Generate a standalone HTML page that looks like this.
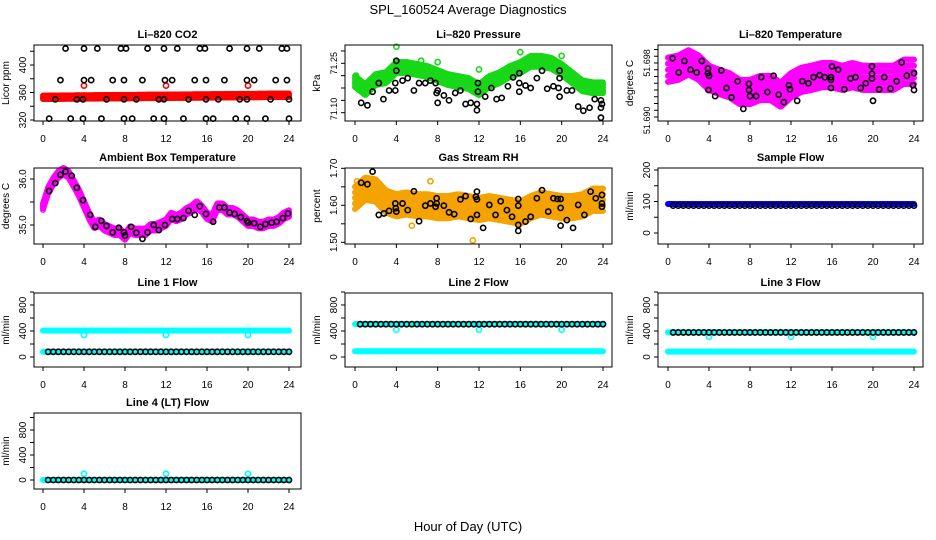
<!DOCTYPE html>
<html><head><meta charset="utf-8"><style>
html,body{margin:0;padding:0;background:#fff;}
svg{display:block;font-family:"Liberation Sans",Arial,sans-serif;}
</style></head><body>
<svg id="chart" width="936" height="540" viewBox="0 0 936 540" xmlns="http://www.w3.org/2000/svg">
<text x="468" y="14" font-size="13" text-anchor="middle">SPL_160524  Average Diagnostics</text>
<text x="468" y="531" font-size="13" text-anchor="middle">Hour of Day (UTC)</text>
</svg>
<script>
// ---- shared x categories ----
const hoursHourly = [0,1,2,3,4,5,6,7,8,9,10,11,12,13,14,15,16,17,18,19,20,21,22,23,24];
const hoursHalf = [0,0.5,1,1.5,2,2.5,3,3.5,4,4.5,5,5.5,6,6.5,7,7.5,8,8.5,9,9.5,10,10.5,11,11.5,12,12.5,13,13.5,14,14.5,15,15.5,16,16.5,17,17.5,18,18.5,19,19.5,20,20.5,21,21.5,22,22.5,23,23.5,24];
const flowHours = [0.5,1,1.5,2,2.5,3,3.5,4,4.5,5,5.5,6,6.5,7,7.5,8,8.5,9,9.5,10,10.5,11,11.5,12,12.5,13,13.5,14,14.5,15,15.5,16,16.5,17,17.5,18,18.5,19,19.5,20,20.5,21,21.5,22,22.5,23,23.5,24];
const xTicks = [0,4,8,12,16,20,24];
const outlierHours = [4,12,20];

// ---- CO2 ----
const co2BlackHours = [2.2,4.0,5.3,7.6,8.1,10.2,11.8,13.1,15.3,15.8,18.2,19.9,21.1,23.3,23.8, 1.7,4.0,4.7,6.8,7.9,9.7,11.9,12.6,14.8,15.9,17.7,19.9,20.6,22.7,23.8, 1.2,3.3,3.9,6.2,7.9,9.1,11.3,11.8,14.2,15.9,17.1,19.2,19.9,22.2,24.0, 0.6,2.7,3.9,5.7,7.9,8.7,10.8,11.8,13.7,15.9,16.6,18.8,19.9,21.7,24.0];
const co2BlackVals = [424,424,424,424,424,424,424,424,424,424,424,424,424,424,424, 378,378,378,378,378,378,378,378,378,378,378,378,378,378,378, 350,350,350,350,350,350,350,350,350,350,350,350,350,350,350, 322,322,322,322,322,322,322,322,322,322,322,322,322,322,322];
const co2RedCenter = [353,353.1,353.3,353.4,353.5,353.6,353.8,353.9,354,354.1,354.3,354.4,354.5,354.6,354.8,354.9,355,355.1,355.3,355.4,355.5,355.6,355.8,355.9,356];
const co2RedSpread = 2.5;
const co2RedOutliers = [370,370,370];

// ---- Pressure ----
const presBandCenter = [71.176,71.143,71.184,71.192,71.233,71.233,71.225,71.217,71.200,71.184,71.176,71.168,71.143,71.176,71.192,71.217,71.233,71.258,71.258,71.250,71.225,71.192,71.159,71.151,71.151];
const presSpread = 0.022;
const presBlackHours = [0.6,1.2,1.7,2.3,2.75,3.3,3.9,3.9,4.0,4.0,4.6,5.1,5.7,6.2,6.8,7.3,7.8,7.9,8.0,8.0,8.6,9.1,9.7,10.2,10.7,11.2,11.8,11.8,11.9,11.9,12.6,13.2,13.7,14.2,14.8,15.3,15.9,15.9,15.9,16.5,17.0,17.6,18.1,18.6,19.2,19.7,19.8,19.8,19.8,20.5,21.0,21.6,22.1,22.7,23.2,23.8,23.8,23.9,23.8];
const presBlackVals = [71.09,71.08,71.135,71.17,71.105,71.14,71.14,71.17,71.26,71.22,71.18,71.19,71.14,71.17,71.17,71.18,71.17,71.13,71.14,71.09,71.12,71.10,71.13,71.14,71.085,71.09,71.085,71.06,71.17,71.135,71.115,71.15,71.105,71.11,71.157,71.193,71.21,71.17,71.135,71.16,71.15,71.19,71.22,71.147,71.157,71.15,71.22,71.19,71.115,71.14,71.14,71.075,71.058,71.07,71.105,71.10,71.07,71.085,71.03];
const presGreenOutHours = [0.1,4.0,6.4,8.0,12.0,16.0,20.0];
const presGreenOutVals = [71.20,71.317,71.26,71.255,71.225,71.295,71.28];

// ---- Li-820 Temperature ----
const tempBandCenter = [51.6970,51.6973,51.6981,51.6973,51.6958,51.6952,51.6947,51.6937,51.6937,51.6943,51.6943,51.6933,51.6947,51.6955,51.6958,51.6962,51.6962,51.6958,51.6962,51.6958,51.6958,51.6958,51.6958,51.6967,51.6967];
const tempSpread = 0.0018;
const tempBlackHours = [0.45,1.05,1.6,2.2,2.8,3.3,3.9,3.9,4.0,3.95,4.6,5.2,5.7,6.2,6.8,7.35,7.9,7.9,8.0,8.6,9.1,9.7,10.3,10.8,11.3,11.8,11.9,12.6,13.1,13.7,14.2,14.8,15.3,15.9,15.9,15.9,16.0,16.6,17.2,17.8,18.3,18.8,19.3,19.9,19.9,19.9,20.0,20.6,21.1,21.7,22.3,22.8,23.3,23.9,24.0,24.0];
const tempBlackVals = [51.6987,51.6966,51.6983,51.6970,51.6966,51.6983,51.6972,51.6965,51.6961,51.6940,51.6931,51.6969,51.6943,51.6929,51.6953,51.6912,51.6949,51.6940,51.6931,51.6931,51.6959,51.6937,51.6961,51.6933,51.6922,51.6947,51.6941,51.6924,51.6953,51.6950,51.6959,51.6962,51.6959,51.6955,51.6959,51.6943,51.6975,51.6970,51.6941,51.6957,51.6959,51.6943,51.6950,51.6957,51.6964,51.6975,51.6924,51.6941,51.6959,51.6942,51.6953,51.6981,51.6961,51.6947,51.6940,51.6965];

// ---- Ambient Box Temperature ----
const ambBandCenter = [35.4,35.75,35.95,36.1,36.17,36.1,35.9,35.7,35.45,35.2,35.0,35.05,34.95,34.9,34.85,34.85,34.75,34.9,34.85,34.85,34.85,34.95,34.95,35.0,35.05,35.2,35.15,35.2,35.3,35.35,35.45,35.35,35.2,35.15,35.4,35.4,35.3,35.3,35.25,35.15,35.05,35.05,35.0,35.0,35.05,35.05,35.1,35.2,35.25];
const ambSpread = 0.07;
const ambBlackHours = [0.6,1.2,1.7,2.2,2.8,3.3,3.9,4.6,5.1,5.7,6.2,6.8,7.4,7.9,8.0,8.6,9.1,9.7,10.2,10.8,11.3,11.9,12.6,13.1,13.7,14.2,14.8,15.3,15.9,16.6,17.2,17.7,18.2,18.7,19.3,19.9,20.0,20.6,21.2,21.7,22.3,22.8,23.4,23.9];
const ambBlackVals = [35.74,35.91,36.09,36.16,36.07,35.81,35.54,35.22,34.96,35.09,34.98,34.84,34.94,34.84,34.77,34.96,34.83,34.70,34.84,35.0,34.89,35.0,35.13,35.13,35.15,35.31,35.22,35.41,35.24,35.07,35.38,35.38,35.27,35.24,35.17,35.09,35.05,35.04,34.96,35.02,35.05,35.07,35.15,35.25];

// ---- Gas Stream RH ----
const rhBandCenter = [1.62,1.645,1.64,1.61,1.60,1.605,1.60,1.60,1.595,1.595,1.60,1.595,1.59,1.595,1.59,1.585,1.58,1.595,1.605,1.60,1.595,1.595,1.60,1.615,1.615];
const rhSpread = 0.03;
const rhBlackHours = [0.6,1.2,1.7,2.3,2.8,3.3,3.9,3.95,4.0,4.6,5.1,5.7,6.2,6.8,7.3,7.8,7.9,7.9,8.6,9.1,9.6,10.2,10.7,11.2,11.7,11.8,11.8,11.8,12.4,13.0,13.6,14.1,14.7,15.2,15.8,15.8,15.8,15.8,16.5,17.0,17.6,18.1,18.7,19.2,19.6,19.9,19.9,19.9,20.5,21.1,21.6,22.2,22.8,23.3,23.9,23.9,23.9];
const rhBlackVals = [1.661,1.657,1.691,1.574,1.578,1.585,1.605,1.592,1.583,1.605,1.587,1.638,1.557,1.599,1.605,1.596,1.619,1.605,1.599,1.581,1.576,1.616,1.625,1.563,1.623,1.637,1.616,1.574,1.539,1.601,1.574,1.611,1.587,1.569,1.617,1.599,1.547,1.531,1.556,1.569,1.619,1.641,1.583,1.619,1.617,1.617,1.545,1.593,1.560,1.539,1.601,1.574,1.637,1.619,1.628,1.596,1.605];
const rhOutHours = [11.4,5.5,7.3,0.2];
const rhOutVals = [1.505,1.545,1.665,1.665];

// ---- Flows ----
const sampleBand = [92,92,92,92,92,92,92,92,92,92,92,92,92,92,92,92,92,92,92,92,92,92,92,92,92];
const sampleBlack = [87,87,87,87,87,87,87,87,87,87,87,87,87,87,87,87,87,87,87,87,87,87,87,87,87,87,87,87,87,87,87,87,87,87,87,87,87,87,87,87,87,87,87,87,87,87,87,87];
const line1CyanHigh = [405,405,405,405,405,405,405,405,405,405,405,405,405,405,405,405,405,405,405,405,405,405,405,405,405];
const line1CyanLow = [80,80,80,80,80,80,80,80,80,80,80,80,80,80,80,80,80,80,80,80,80,80,80,80,80];
const line1Black = [80,80,80,80,80,80,80,80,80,80,80,80,80,80,80,80,80,80,80,80,80,80,80,80,80,80,80,80,80,80,80,80,80,80,80,80,80,80,80,80,80,80,80,80,80,80,80,80];
const line1Dips = [338,338,338];
const line2CyanHigh = [505,505,505,505,505,505,505,505,505,505,505,505,505,505,505,505,505,505,505,505,505,505,505,505,505];
const line2CyanLow = [88,88,88,88,88,88,88,88,88,88,88,88,88,88,88,88,88,88,88,88,88,88,88,88,88];
const line2Black = [505,505,505,505,505,505,505,505,505,505,505,505,505,505,505,505,505,505,505,505,505,505,505,505,505,505,505,505,505,505,505,505,505,505,505,505,505,505,505,505,505,505,505,505,505,505,505,505];
const line2Dips = [420,420,420];
const line3CyanHigh = [378,378,378,378,378,378,378,378,378,378,378,378,378,378,378,378,378,378,378,378,378,378,378,378,378];
const line3CyanLow = [82,82,82,82,82,82,82,82,82,82,82,82,82,82,82,82,82,82,82,82,82,82,82,82,82];
const line3Black = [378,378,378,378,378,378,378,378,378,378,378,378,378,378,378,378,378,378,378,378,378,378,378,378,378,378,378,378,378,378,378,378,378,378,378,378,378,378,378,378,378,378,378,378,378,378,378,378];
const line3Dips = [312,312,312];
const line4Cyan = [0,0,0,0,0,0,0,0,0,0,0,0,0,0,0,0,0,0,0,0,0,0,0,0,0];
const line4Black = [0,0,0,0,0,0,0,0,0,0,0,0,0,0,0,0,0,0,0,0,0,0,0,0,0,0,0,0,0,0,0,0,0,0,0,0,0,0,0,0,0,0,0,0,0,0,0,0];
const line4Spikes = [100,100,100];

const NS = 'http://www.w3.org/2000/svg';
const svg = document.getElementById('chart');
const COLS = [{l:34,r:301,x0:43,x24:289},{l:345,r:612,x0:355,x24:603},{l:658,r:923,x0:668,x24:914}];
const ROWS = [{t:45,b:121},{t:168,b:244},{t:293,b:367},{t:413,b:489}];

function mk(tag, attrs, parent){
  const e = document.createElementNS(NS, tag);
  for (const k in attrs) e.setAttribute(k, attrs[k]);
  (parent||svg).appendChild(e);
  return e;
}

function makePanel(cfg){
  const c = COLS[cfg.col], r = ROWS[cfg.row];
  const g = mk('g', {});
  
  
  const xs = h => c.x0 + (h/24)*(c.x24 - c.x0);
  const ys = v => cfg.yp[0] + (v - cfg.yv[0]) * (cfg.yp[1]-cfg.yp[0]) / (cfg.yv[1]-cfg.yv[0]);
  const plot = mk('g', {}, g);
  
  
  const box = mk('rect', {x:c.l, y:r.t, width:c.r-c.l, height:r.b-r.t, fill:'none', stroke:'#000', 'stroke-width':1}, g);
  
  
  const title = mk('text', {x:(c.l+c.r)/2, y:r.t-7, 'font-size':11, 'font-weight':'bold', 'text-anchor':'middle'}, g);
  title.textContent = cfg.title;
  
  
  const xa = mk('g', {}, g);
  
  
  xTicks.forEach(t => {
    mk('line', {x1:xs(t), x2:xs(t), y1:r.b, y2:r.b+4, stroke:'#000'}, xa);
    const tx = mk('text', {x:xs(t), y:r.b+21, 'font-size':10, 'text-anchor':'middle'}, xa);
    tx.textContent = String(t);
    
    
  });
  const ya = mk('g', {}, g);
  
  
  cfg.yticks.forEach(t => {
    mk('line', {x1:c.l-4, x2:c.l, y1:ys(t), y2:ys(t), stroke:'#000'}, ya);
  });
  const fs = cfg.tickFont || 10;
  cfg.ylabels.forEach((t,i) => {
    const y = ys(t), x = c.l-8;
    const tx = mk('text', {x:x, y:y, 'font-size':fs, 'text-anchor':'middle', transform:'rotate(-90 '+x+' '+y+')'}, ya);
    tx.textContent = cfg.ylabelText[i];
    
    
  });
  const yx = c.l - 25, yy = (r.t + r.b)/2;
  const yt = mk('text', {x:yx, y:yy, 'font-size':10, 'text-anchor':'middle', transform:'rotate(-90 '+yx+' '+yy+')'}, g);
  yt.textContent = cfg.ytitle;
  
  
  return {g:plot, xs, ys};
}

function band(p, name, hrs, centers, spread, color, levels){
  const grp = mk('g', {fill:'none', stroke:color, 'stroke-width':1.4}, p.g);
  
  
  const h0 = hrs[0], h1 = hrs[hrs.length-1];
  for (let h = h0; h <= h1 + 1e-9; h += 0.08){
    let i = 0;
    while (i < hrs.length-2 && hrs[i+1] < h) i++;
    const f = Math.min(1, Math.max(0, (h - hrs[i]) / (hrs[i+1]-hrs[i])));
    const cv = centers[i] + f*(centers[i+1]-centers[i]);
    levels.forEach(k => {
      mk('circle', {cx:p.xs(h), cy:p.ys(cv + k*spread), r:2.3}, grp);
    });
  }
}

function points(p, name, hrs, vals, color, sw){
  const grp = mk('g', {fill:'none', stroke:color, 'stroke-width':sw||1.6}, p.g);
  
  
  hrs.forEach((h,i) => {
    const ci = mk('circle', {cx:p.xs(h), cy:p.ys(vals[i]), r:2.6}, grp);
    
    
  });
}

const L5 = [-1,-0.5,0,0.5,1];

// CO2
let p = makePanel({name:'co2', title:'Li\u2013820 CO2', col:0, row:0, yv:[320,400], yp:[120,65], yticks:[320,340,360,380,400,420], ylabels:[320,360,400], ylabelText:['320','360','400'], ytitle:'Licor ppm'});
band(p, 'co2-red-band', hoursHourly, co2RedCenter, co2RedSpread, '#ff0000', [-1,0,1]);
points(p, 'co2-red-outliers', outlierHours, co2RedOutliers, '#ff0000');
points(p, 'co2-black-points', co2BlackHours, co2BlackVals, '#000');

// Pressure
p = makePanel({name:'pressure', title:'Li\u2013820 Pressure', col:1, row:0, yv:[71.05,71.25], yp:[112.7,63.3], yticks:[71.05,71.10,71.15,71.20,71.25,71.30], ylabels:[71.065,71.25], ylabelText:['71.10','71.25'], ytitle:'kPa', tickFont:9});
band(p, 'pressure-green-band', hoursHourly, presBandCenter, presSpread, '#18d818', L5);
points(p, 'pressure-green-outliers', presGreenOutHours, presGreenOutVals, '#18d818');
points(p, 'pressure-black-points', presBlackHours, presBlackVals, '#000');

// Li-820 Temperature
p = makePanel({name:'li820-temp', title:'Li\u2013820 Temperature', col:2, row:0, yv:[51.690,51.698], yp:[117,63], yticks:[51.690,51.691,51.692,51.693,51.694,51.695,51.696,51.697,51.698,51.699,51.700], ylabels:[51.6895,51.698], ylabelText:['51.690','51.698'], ytitle:'degrees C', tickFont:9});
band(p, 'li820-temp-magenta-band', hoursHourly, tempBandCenter, tempSpread, '#ff00ff', L5);
points(p, 'li820-temp-black-points', tempBlackHours, tempBlackVals, '#000');

// Ambient
p = makePanel({name:'ambient', title:'Ambient Box Temperature', col:0, row:1, yv:[35.0,36.0], yp:[225,179], yticks:[35.0,35.5,36.0], ylabels:[35.0,36.0], ylabelText:['35.0','36.0'], ytitle:'degrees C'});
band(p, 'ambient-magenta-band', hoursHalf, ambBandCenter, ambSpread, '#ff00ff', L5);
points(p, 'ambient-black-points', ambBlackHours, ambBlackVals, '#000');

// RH
p = makePanel({name:'rh', title:'Gas Stream RH', col:1, row:1, yv:[1.50,1.70], yp:[242.3,168.3], yticks:[1.50,1.55,1.60,1.65,1.70], ylabels:[1.50,1.60,1.70], ylabelText:['1.50','1.60','1.70'], ytitle:'percent'});
band(p, 'rh-orange-band', hoursHourly, rhBandCenter, rhSpread, '#f5a300', L5);
points(p, 'rh-orange-outliers', rhOutHours, rhOutVals, '#f5a300');
points(p, 'rh-black-points', rhBlackHours, rhBlackVals, '#000');

// Sample Flow
p = makePanel({name:'sample-flow', title:'Sample Flow', col:2, row:1, yv:[0,200], yp:[233,170], yticks:[0,50,100,150,200], ylabels:[0,100,200], ylabelText:['0','100','200'], ytitle:'ml/min'});
band(p, 'sample-flow-blue-band', hoursHourly, sampleBand, 0, '#0000ff', [0]);
points(p, 'sample-flow-black-points', flowHours, sampleBlack, '#000');

const flowTicks = [0,200,400,600,800,1000];
// Line 1
p = makePanel({name:'line1-flow', title:'Line 1 Flow', col:0, row:2, yv:[0,800], yp:[357,305], yticks:flowTicks, ylabels:[0,400,800], ylabelText:['0','400','800'], ytitle:'ml/min'});
band(p, 'line1-cyan-high', hoursHourly, line1CyanHigh, 0, '#00ffff', [0]);
band(p, 'line1-cyan-low', hoursHourly, line1CyanLow, 0, '#00ffff', [0]);
points(p, 'line1-cyan-dips', outlierHours, line1Dips, '#00ffff');
points(p, 'line1-black-points', flowHours, line1Black, '#000');

// Line 2
p = makePanel({name:'line2-flow', title:'Line 2 Flow', col:1, row:2, yv:[0,800], yp:[357,305], yticks:flowTicks, ylabels:[0,400,800], ylabelText:['0','400','800'], ytitle:'ml/min'});
band(p, 'line2-cyan-high', hoursHourly, line2CyanHigh, 0, '#00ffff', [0]);
band(p, 'line2-cyan-low', hoursHourly, line2CyanLow, 0, '#00ffff', [0]);
points(p, 'line2-cyan-dips', outlierHours, line2Dips, '#00ffff');
points(p, 'line2-black-points', flowHours, line2Black, '#000');

// Line 3
p = makePanel({name:'line3-flow', title:'Line 3 Flow', col:2, row:2, yv:[0,800], yp:[357,305], yticks:flowTicks, ylabels:[0,400,800], ylabelText:['0','400','800'], ytitle:'ml/min'});
band(p, 'line3-cyan-high', hoursHourly, line3CyanHigh, 0, '#00ffff', [0]);
band(p, 'line3-cyan-low', hoursHourly, line3CyanLow, 0, '#00ffff', [0]);
points(p, 'line3-cyan-dips', outlierHours, line3Dips, '#00ffff');
points(p, 'line3-black-points', flowHours, line3Black, '#000');

// Line 4
p = makePanel({name:'line4-flow', title:'Line 4 (LT) Flow', col:0, row:3, yv:[0,800], yp:[480,430], yticks:flowTicks, ylabels:[0,400,800], ylabelText:['0','400','800'], ytitle:'ml/min'});
band(p, 'line4-cyan-band', hoursHourly, line4Cyan, 0, '#00ffff', [0]);
points(p, 'line4-cyan-spikes', outlierHours, line4Spikes, '#00ffff');
points(p, 'line4-black-points', flowHours, line4Black, '#000');
</script>
</body></html>
